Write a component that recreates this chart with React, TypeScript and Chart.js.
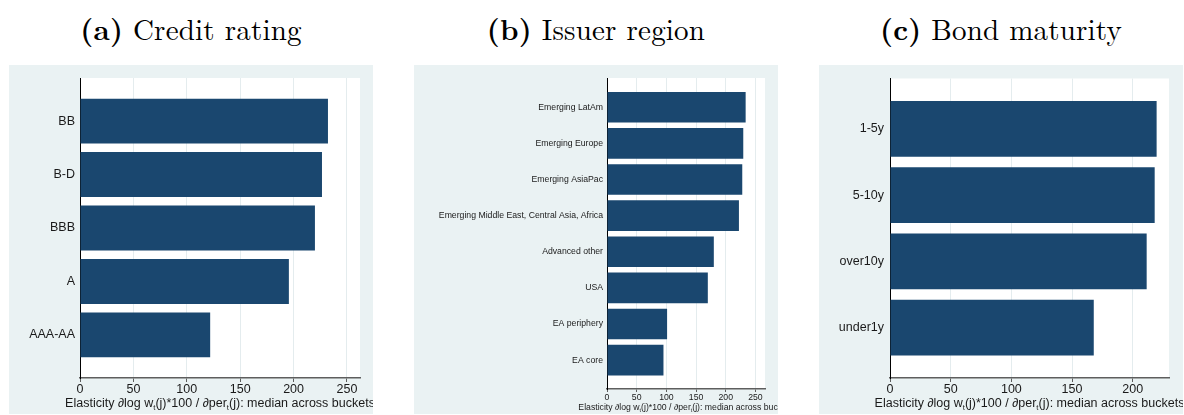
import React, { useEffect, useRef } from "react";
import { Chart, registerables } from "chart.js";
Chart.register(...registerables);

// ---------- data ----------
const ratingLabels = ["BB", "B-D", "BBB", "A", "AAA-AA"];
const ratingValues = [232.2, 226.6, 220.0, 195.6, 121.9];

const regionLabels = [
  "Emerging LatAm",
  "Emerging Europe",
  "Emerging AsiaPac",
  "Emerging Middle East, Central Asia, Africa",
  "Advanced other",
  "USA",
  "EA periphery",
  "EA core",
];
const regionValues = [233.5, 229.5, 227.8, 222.2, 179.9, 169.8, 101.2, 95.1];

const maturityLabels = ["1-5y", "5-10y", "over10y", "under1y"];
const maturityValues = [219.7, 218.1, 211.5, 167.9];

const xTicksRating = [0, 50, 100, 150, 200, 250];
const xTicksRegion = [0, 50, 100, 150, 200, 250];
const xTicksMaturity = [0, 50, 100, 150, 200];

const panelTitles = [
  ["(a)", "Credit rating"],
  ["(b)", "Issuer region"],
  ["(c)", "Bond maturity"],
];

const axisTitleParts = [
  { t: "Elasticity \u2202log w", sub: false },
  { t: "t", sub: true },
  { t: "(j)*100 / \u2202per", sub: false },
  { t: "t", sub: true },
  { t: "(j): median across buckets", sub: false },
];

// ---------- styles ----------
const NAVY = "#1a476f";
const BG = "#eaf2f3";
const GRID = "#e4ecee";
const AXIS = "#5e5e5e";
const TEXT = "#1a1a1a";
const SANS = "'Liberation Sans', Arial, Helvetica, sans-serif";

type PanelCfg = {
  left: number;
  labels: string[];
  values: number[];
  xTicks: number[];
  xMax: number;
  yMin: number;
  yMax: number;
  barPct: number;
  yAxisW: number;
  xAxisH: number;
  padRight: number;
  font: number;
  tickLen: number;
  tickPad: number;
  yPad: number;
  titlePadBottom: number;
};

const W = 364;
const H = 349;

function makePlugins(cfg: PanelCfg) {
  const bg = {
    id: "bgfill",
    beforeDraw(chart: any) {
      const { ctx, chartArea } = chart;
      ctx.save();
      ctx.fillStyle = BG;
      ctx.fillRect(0, 0, chart.width, chart.height);
      ctx.fillStyle = "#ffffff";
      ctx.fillRect(chartArea.left, chartArea.top, chartArea.right - chartArea.left, chartArea.bottom - chartArea.top);
      ctx.restore();
    },
  };
  const title = {
    id: "axisTitleMixed",
    afterDraw(chart: any) {
      const { ctx } = chart;
      const xs = chart.scales.x;
      const size = cfg.font;
      const cx = (xs.left + xs.right) / 2;
      const cy = chart.height - cfg.titlePadBottom - (size * 1.2) / 2;
      const main = `${size}px ${SANS}`;
      const sub = `${size * 0.62}px ${SANS}`;
      ctx.save();
      ctx.fillStyle = TEXT;
      ctx.textBaseline = "middle";
      ctx.textAlign = "left";
      let total = 0;
      const widths = axisTitleParts.map((p) => {
        ctx.font = p.sub ? sub : main;
        const w = ctx.measureText(p.t).width;
        total += w;
        return w;
      });
      let x = cx - total / 2;
      axisTitleParts.forEach((p, i) => {
        ctx.font = p.sub ? sub : main;
        ctx.fillText(p.t, x, cy + (p.sub ? size * 0.28 : 0));
        x += widths[i];
      });
      ctx.restore();
    },
  };
  return [bg, title];
}

function Panel({ cfg }: { cfg: PanelCfg }) {
  const ref = useRef<HTMLCanvasElement | null>(null);
  useEffect(() => {
    if (!ref.current) return;
    const labels = cfg.labels;
    const chart = new Chart(ref.current, {
      type: "bar",
      data: {
        datasets: [
          {
            data: labels.map((_, i) => ({ x: cfg.values[i], y: i })),
            backgroundColor: NAVY,
            borderWidth: 0,
            barPercentage: cfg.barPct,
            categoryPercentage: 1,
          } as any,
        ],
      },
      options: {
        animation: false,
        responsive: false,
        maintainAspectRatio: false,
        indexAxis: "y",
        layout: { padding: { left: 0, top: 13, right: cfg.padRight, bottom: 0 } },
        plugins: {
          legend: { display: false },
          tooltip: { enabled: false },
          title: { display: false },
        },
        scales: {
          x: {
            type: "linear",
            position: "bottom",
            min: 0,
            max: cfg.xMax,
            afterBuildTicks: (s: any) => {
              s.ticks = cfg.xTicks.map((v) => ({ value: v }));
            },
            afterFit: (s: any) => {
              s.height = cfg.xAxisH;
            },
            grid: {
              color: (c: any) => (c.tick && c.tick.value === 0 ? "rgba(0,0,0,0)" : GRID),
              lineWidth: 1,
              tickLength: cfg.tickLen,
              tickColor: AXIS,
              tickWidth: 1,
            },
            border: { color: AXIS, width: 1.5 },
            ticks: {
              font: { family: SANS, size: cfg.font },
              color: TEXT,
              padding: cfg.tickPad,
              maxRotation: 0,
              autoSkip: false,
              callback: (v: any) => String(v),
            },
          },
          y: {
            type: "linear",
            reverse: true,
            offset: false,
            min: cfg.yMin,
            max: cfg.yMax,
            afterBuildTicks: (s: any) => {
              s.ticks = labels.map((_, i) => ({ value: i }));
            },
            afterFit: (s: any) => {
              s.width = cfg.yAxisW;
            },
            grid: { display: false, drawTicks: false },
            border: { color: "#000000", width: 1 },
            ticks: {
              font: { family: SANS, size: cfg.font },
              color: TEXT,
              padding: cfg.yPad,
              autoSkip: false,
              callback: (v: any) => labels[v as number] ?? "",
            },
          },
        },
      } as any,
      plugins: makePlugins(cfg) as any,
    });
    return () => chart.destroy();
  }, [cfg]);
  return (
    <div style={{ position: "absolute", left: cfg.left, top: 65, width: W, height: H, background: BG }}>
      <canvas ref={ref} width={W} height={H} style={{ display: "block", width: W, height: H }} />
    </div>
  );
}

const panels: PanelCfg[] = [
  {
    left: 9,
    labels: ratingLabels,
    values: ratingValues,
    xTicks: xTicksRating,
    xMax: 262.2,
    yMin: -0.807,
    yMax: 4.807,
    barPct: 0.841,
    yAxisW: 71,
    xAxisH: 36,
    padRight: 13,
    font: 12.5,
    tickLen: 4,
    tickPad: 0.5,
    yPad: 5,
    titlePadBottom: 2.5,
  },
  {
    left: 414,
    labels: regionLabels,
    values: regionValues,
    xTicks: xTicksRegion,
    xMax: 266.1,
    yMin: -0.81,
    yMax: 7.8,
    barPct: 0.85,
    yAxisW: 193,
    xAxisH: 25,
    padRight: 13,
    font: 8.7,
    tickLen: 3,
    tickPad: 0.8,
    yPad: 4,
    titlePadBottom: 0.8,
  },
  {
    left: 819,
    labels: maturityLabels,
    values: maturityValues,
    xTicks: xTicksMaturity,
    xMax: 229.9,
    yMin: -0.76,
    yMax: 3.76,
    barPct: 0.84,
    yAxisW: 71,
    xAxisH: 36,
    padRight: 14,
    font: 12.5,
    tickLen: 4,
    tickPad: 0.5,
    yPad: 6,
    titlePadBottom: 2.5,
  },
];

const titleCenters = [191, 596, 1001];

export default function App() {
  return (
    <div
      style={{
        position: "absolute",
        left: 0,
        top: 0,
        width: 1184,
        height: 415,
        background: "#ffffff",
        overflow: "hidden",
      }}
    >
      {panelTitles.map(([tag, name], i) => (
        <div
          key={i}
          style={{
            position: "absolute",
            left: titleCenters[i] - 200,
            top: 8,
            width: 400,
            textAlign: "center",
            fontFamily: "'Latin Modern Roman', 'Liberation Serif', serif",
            fontSize: 29,
            lineHeight: "40px",
            color: "#000",
            letterSpacing: 0.2,
            whiteSpace: "nowrap",
          }}
        >
          <span style={{ fontWeight: 700 }}>{tag}</span> {name}
        </div>
      ))}
      {panels.map((p, i) => (
        <Panel key={i} cfg={p} />
      ))}
    </div>
  );
}
